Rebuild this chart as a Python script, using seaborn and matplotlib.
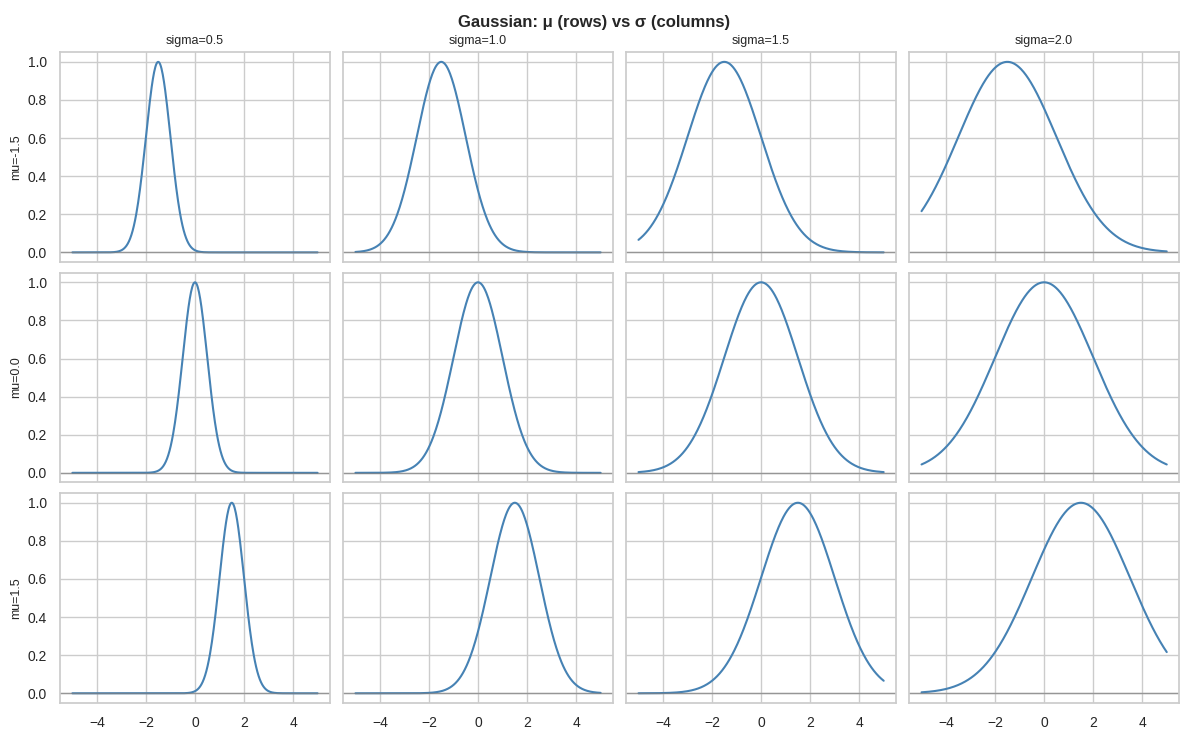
import numpy as np
import pandas as pd
import seaborn as sns
import matplotlib.pyplot as plt

mus = [-1.5, 0.0, 1.5]
sigmas = [0.5, 1.0, 1.5, 2.0]
x = np.linspace(-5, 5, 400)

rows = []
for mu in mus:
    for sigma in sigmas:
        y = np.exp(-(x - mu) ** 2 / (2 * sigma ** 2))
        rows.append(pd.DataFrame({'x': x, 'y': y, 'mu': mu, 'sigma': sigma}))
df = pd.concat(rows)

sns.set_theme(style="whitegrid")
plt.rcParams['font.family'] = ['Liberation Sans', 'DejaVu Sans']
fig, axs = plt.subplots(nrows=3, ncols=4, figsize=(11.89, 7.4), sharex=True, sharey=True)
for i, mu in enumerate(mus):
    for j, sigma in enumerate(sigmas):
        ax = axs[i][j]
        d = df[(df['mu'] == mu) & (df['sigma'] == sigma)]
        sns.lineplot(data=d, x='x', y='y', ax=ax, color='steelblue', linewidth=1.5)
        ax.axhline(0, color='grey', linewidth=1, alpha=0.7)
        ax.set_xlabel('')
        ax.set_ylabel(f'mu={mu}' if j == 0 else '', fontsize=9)
        if i == 0:
            ax.set_title(f'sigma={sigma}', fontsize=9)
        ax.set_xticks([-4, -2, 0, 2, 4])
        ax.set_yticks([0, 0.2, 0.4, 0.6, 0.8, 1.0])
        ax.tick_params(labelsize=10)
        for s in ax.spines.values():
            s.set_color('#cccccc')
fig.suptitle('Gaussian: μ (rows) vs σ (columns)', fontweight='bold', fontsize=12)
plt.tight_layout(pad=0.6, h_pad=0.6, w_pad=0.8)
plt.savefig('out.png', dpi=100)
